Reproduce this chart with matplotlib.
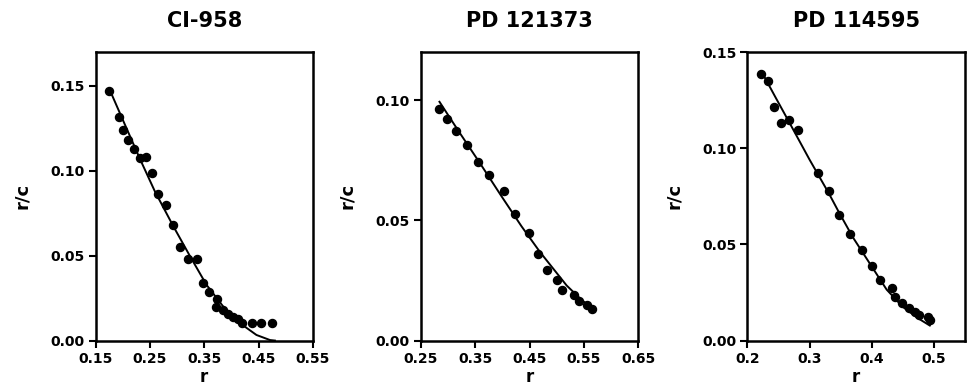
import matplotlib
matplotlib.use("Agg")
import matplotlib.pyplot as plt
from matplotlib.ticker import FormatStrFormatter

plt.rcParams['font.family'] = ['DejaVu Sans']
plt.rcParams['font.weight'] = 'bold'

titles = ["CI-958", "PD 121373", "PD 114595"]

# Panel 1: CI-958
r1 = [0.175, 0.194, 0.200, 0.210, 0.220, 0.231, 0.243, 0.254, 0.265, 0.280,
      0.293, 0.305, 0.321, 0.336, 0.348, 0.359, 0.373, 0.371, 0.385, 0.394,
      0.403, 0.412, 0.419, 0.437, 0.454, 0.474]
rc1 = [0.1473, 0.1315, 0.1242, 0.1183, 0.1128, 0.1074, 0.1084, 0.0986, 0.0861, 0.0798,
       0.0680, 0.0552, 0.0482, 0.0481, 0.0342, 0.0289, 0.0244, 0.0200, 0.0181, 0.0157,
       0.0141, 0.0125, 0.0105, 0.0105, 0.0105, 0.0105]
fit_r1 = [0.178, 0.205, 0.232, 0.259, 0.293, 0.324, 0.354, 0.385, 0.416, 0.446, 0.471, 0.480]
fit_rc1 = [0.1463, 0.1265, 0.1068, 0.0880, 0.0674, 0.0496, 0.0329, 0.0200, 0.0102, 0.0033, 0.0003, 0.0]

# Panel 2: PD 121373
r2 = [0.283, 0.297, 0.315, 0.334, 0.354, 0.376, 0.402, 0.423, 0.448, 0.466,
      0.482, 0.500, 0.509, 0.531, 0.540, 0.556, 0.564]
rc2 = [0.0965, 0.0920, 0.0872, 0.0813, 0.0743, 0.0688, 0.0622, 0.0525, 0.0447, 0.0361,
       0.0294, 0.0250, 0.0211, 0.0188, 0.0164, 0.0146, 0.0132]
fit_r2 = [0.284, 0.320, 0.359, 0.397, 0.435, 0.469, 0.518, 0.545, 0.570]
fit_rc2 = [0.0993, 0.0868, 0.0736, 0.0604, 0.0475, 0.0368, 0.0229, 0.0170, 0.0125]

# Panel 3: PD 114595
r3 = [0.221, 0.233, 0.242, 0.254, 0.267, 0.282, 0.313, 0.331, 0.347, 0.365,
      0.384, 0.401, 0.414, 0.432, 0.437, 0.448, 0.460, 0.469, 0.476, 0.491, 0.494]
rc3 = [0.1384, 0.1350, 0.1212, 0.1129, 0.1146, 0.1094, 0.0871, 0.0778, 0.0651, 0.0552,
       0.0472, 0.0385, 0.0316, 0.0274, 0.0226, 0.0194, 0.0170, 0.0147, 0.0135, 0.0121, 0.0108]
fit_r3 = [0.224, 0.245, 0.268, 0.300, 0.331, 0.347, 0.370, 0.400, 0.424, 0.450, 0.475, 0.4935]
fit_rc3 = [0.139, 0.1265, 0.113, 0.094, 0.0765, 0.0668, 0.0535, 0.0385, 0.0265, 0.0175, 0.0115, 0.0078]

xticks = [[0.15, 0.25, 0.35, 0.45, 0.55], [0.25, 0.35, 0.45, 0.55, 0.65], [0.2, 0.3, 0.4, 0.5]]
yticks = [[0.00, 0.05, 0.10, 0.15], [0.00, 0.05, 0.10], [0.00, 0.05, 0.10, 0.15]]
xlims = [(0.15, 0.55), (0.25, 0.65), (0.2, 0.55)]
ylims = [(0.0, 0.17), (0.0, 0.12), (0.0, 0.15)]
xfmt = ['%.2f', '%.2f', '%.1f']

data = [(r1, rc1, fit_r1, fit_rc1), (r2, rc2, fit_r2, fit_rc2), (r3, rc3, fit_r3, fit_rc3)]
lefts = [0.0987, 0.4349, 0.7722]
width = 0.2246
bottom = 0.129
height = 0.738

fig = plt.figure(figsize=(9.68, 3.91), dpi=100)
for i in range(3):
    ax = fig.add_axes([lefts[i], bottom, width, height])
    rx, ry, fx, fy = data[i]
    ax.plot(fx, fy, color='black', lw=1.4, zorder=2)
    ax.plot(rx, ry, 'o', color='black', ms=5.8, zorder=3)
    ax.set_xlim(*xlims[i])
    ax.set_ylim(*ylims[i])
    ax.set_xticks(xticks[i])
    ax.set_yticks(yticks[i])
    ax.xaxis.set_major_formatter(FormatStrFormatter(xfmt[i]))
    ax.yaxis.set_major_formatter(FormatStrFormatter('%.2f'))
    for s in ax.spines.values():
        s.set_linewidth(1.8)
    ax.tick_params(direction='out', length=5, width=1.5, labelsize=10, pad=3)
    for lab in ax.get_xticklabels() + ax.get_yticklabels():
        lab.set_fontweight('bold')
    ax.set_xlabel('r', fontsize=12, fontweight='bold', labelpad=2)
    ax.set_ylabel('r/c', fontsize=13, fontweight='bold', labelpad=14)
    ax.set_title(titles[i], fontsize=15, fontweight='bold', pad=18)

fig.savefig('out.png', dpi=100)
